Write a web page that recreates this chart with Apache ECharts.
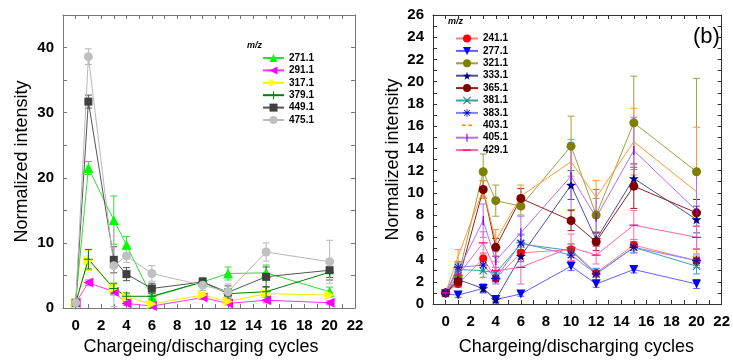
<!DOCTYPE html>
<html><head><meta charset="utf-8">
<script src="https://cdn.jsdelivr.net/npm/echarts@6/dist/echarts.min.js"></script>
<style>html,body{margin:0;padding:0;background:#fff}#c{width:733px;height:361px}</style>
</head><body><div id="c"></div>
<script>
// ---------- data ----------
const cycles = [0, 1, 3, 4, 6, 10, 12, 15, 20];
const xTickLabels = [0, 2, 4, 6, 8, 10, 12, 14, 16, 18, 20, 22];
const leftYTickLabels = [0, 10, 20, 30, 40];
const rightYTickLabels = [0, 2, 4, 6, 8, 10, 12, 14, 16, 18, 20, 22, 24, 26];

// left panel (a)
const mz271 = [0.9, 21.5, 13.5, 9.7, 1.7, 4.0, 5.3, 5.4, 2.5];
const err271 = [0.3, 1.0, 3.7, 1.3, 0.5, 0.6, 1.0, 1.2, 0.7];
const mz291 = [0.8, 3.9, 2.5, 0.7, 0.3, 1.6, 0.7, 1.2, 0.8];
const err291 = [0.2, 0.4, 0.5, 0.3, 0.2, 0.3, 0.2, 0.4, 0.3];
const mz317 = [0.8, 7.3, 3.0, 1.7, 0.6, 2.0, 1.0, 2.2, 2.0];
const err317 = [0.2, 1.5, 0.6, 0.4, 0.3, 0.4, 0.3, 0.5, 0.4];
const mz379 = [0.8, 7.5, 3.0, 1.8, 1.8, 4.0, 2.2, 2.5, 5.5];
const err379 = [0.2, 1.5, 0.8, 0.5, 0.5, 0.6, 0.5, 0.7, 0.8];
const mz449 = [0.8, 31.7, 7.4, 5.2, 3.0, 4.0, 2.4, 4.8, 5.8];
const err449 = [0.2, 1.0, 2.0, 1.0, 0.8, 0.6, 1.0, 1.5, 1.5];
const mz475 = [0.8, 38.6, 6.5, 8.0, 5.3, 3.5, 2.5, 8.6, 7.1];
const err475 = [0.2, 1.2, 6.3, 1.0, 1.2, 0.8, 1.2, 1.4, 3.3];

// right panel (b)
const mz241 = [1.0, 1.8, 4.1, 2.3, 4.6, 4.9, 2.8, 5.3, 3.9];
const err241 = [0.2, 0.3, 0.5, 0.4, 0.5, 0.5, 0.4, 0.5, 0.4];
const mz277 = [0.9, 0.8, 1.4, 0.4, 0.9, 3.4, 1.8, 3.1, 1.8];
const err277 = [0.2, 0.2, 0.3, 0.2, 0.2, 0.4, 0.3, 0.3, 0.4];
const mz321 = [1.0, 2.4, 11.9, 9.3, 8.8, 14.2, 8.0, 16.3, 11.9];
const err321 = [0.2, 0.5, 1.6, 1.4, 0.8, 2.7, 1.5, 4.2, 8.4];
const mz333 = [1.0, 2.2, 1.4, 0.4, 4.3, 10.7, 5.8, 11.3, 7.6];
const err333 = [0.2, 0.5, 0.4, 0.3, 0.5, 1.3, 0.6, 1.0, 1.2];
const mz365 = [1.0, 2.0, 10.3, 5.1, 9.5, 7.5, 5.6, 10.6, 8.2];
const err365 = [0.2, 0.4, 0.8, 0.8, 0.9, 0.9, 0.8, 2.0, 1.2];
const mz381 = [1.0, 3.1, 3.0, 2.8, 5.4, 4.8, 2.7, 5.1, 3.4];
const err381 = [0.2, 0.5, 0.6, 0.5, 0.8, 0.6, 0.5, 0.5, 0.7];
const mz383 = [1.0, 3.3, 3.5, 2.3, 5.5, 4.4, 2.7, 5.1, 3.9];
const err383 = [0.2, 0.5, 0.6, 0.5, 0.8, 0.6, 0.5, 0.5, 0.6];
const mz403 = [1.0, 4.3, 10.3, 5.7, 9.7, 12.8, 9.6, 14.6, 10.1];
const err403 = [0.2, 0.6, 0.8, 1.0, 1.0, 2.0, 1.5, 3.0, 5.8];
const mz405 = [1.0, 3.0, 7.5, 3.9, 6.4, 11.5, 7.8, 13.8, 8.4];
const err405 = [0.2, 0.8, 1.5, 1.0, 1.5, 3.0, 2.5, 3.0, 3.5];
const mz429 = [1.0, 2.6, 5.5, 3.0, 3.3, 5.1, 4.4, 7.1, 6.0];
const err429 = [0.2, 0.6, 1.0, 0.8, 1.5, 1.2, 0.8, 1.3, 1.0];

// ---------- styling ----------
const FONT = 'Liberation Sans, Arial, sans-serif';
const SYM = {
  plus: 'path://M4.4,0H5.6V4.4H10V5.6H5.6V10H4.4V5.6H0V4.4H4.4Z',
  star: 'path://M5,0L6.2,3.5L10,3.6L7,5.9L8.1,9.5L5,7.4L1.9,9.5L3,5.9L0,3.6L3.8,3.5Z',
  cross: 'path://M0,0.8L0.8,0L5,4.2L9.2,0L10,0.8L5.8,5L10,9.2L9.2,10L5,5.8L0.8,10L0,9.2L4.2,5Z',
  aster: 'path://M4.5,0H5.5V10H4.5Z M0,4.5H10V5.5H0Z M1,1.7L1.7,1L9,8.3L8.3,9Z M8.3,1L9,1.7L1.7,9L1,8.3Z',
  vbar: 'path://M0,0H10V0.01H0Z M4.3,0H5.7V10H4.3Z',
  hbar: 'path://M0,0H0.01V10H0Z M0,4.3H10V5.7H0Z',
  dashes: 'path://M0,0H0.01V10H0Z M0,4.2H3.5V5.8H0Z M6.5,4.2H10V5.8H6.5Z'
};

function errRender(params, api) {
  const x = api.value(0), lo = api.value(1), hi = api.value(2);
  const p1 = api.coord([x, hi]), p2 = api.coord([x, lo]);
  const w = 3.5;
  const style = { stroke: api.visual('color'), lineWidth: 1, fill: null };
  return { type: 'group', children: [
    { type: 'line', shape: { x1: p1[0], y1: p1[1], x2: p2[0], y2: p2[1] }, style },
    { type: 'line', shape: { x1: p1[0] - w, y1: p1[1], x2: p1[0] + w, y2: p1[1] }, style },
    { type: 'line', shape: { x1: p2[0] - w, y1: p2[1], x2: p2[0] + w, y2: p2[1] }, style }
  ]};
}

const series = [];
function add(name, ys, es, gi, color, lineColor, symbol, size, rotate) {
  const noSym = symbol === 'none';
  series.push({
    name, type: 'line', xAxisIndex: gi * 2, yAxisIndex: gi * 2,
    data: cycles.map((x, i) => [x, ys[i]]),
    symbol: noSym ? 'none' : symbol, symbolSize: size, symbolRotate: rotate || 0,
    symbolKeepAspect: true,
    showSymbol: !noSym,
    itemStyle: { color: color },
    lineStyle: { color: lineColor, width: 1 },
    emphasis: { disabled: true },
    z: 3, animation: false
  });
  series.push({
    name: name + ' err', type: 'custom', xAxisIndex: gi * 2, yAxisIndex: gi * 2,
    renderItem: errRender,
    data: cycles.map((x, i) => [x, ys[i] - es[i], ys[i] + es[i]]),
    itemStyle: { color: lineColor }, z: 2, animation: false, silent: true
  });
}
// left
add('271.1', mz271, err271, 0, '#00ff00', '#33dd33', 'triangle', 10);
add('291.1', mz291, err291, 0, '#ff00ff', '#ff33ff', 'triangle', 10, 90);
add('317.1', mz317, err317, 0, '#ffff00', '#eeee00', 'triangle', 10, -90);
add('379.1', mz379, err379, 0, '#008000', '#008000', SYM.plus, 9);
add('449.1', mz449, err449, 0, '#404040', '#555555', 'rect', 8);
add('475.1', mz475, err475, 0, '#c0c0c0', '#b8b8b8', 'circle', 9);
// right
add('241.1', mz241, err241, 1, '#ff0000', '#ff8080', 'circle', 8);
add('277.1', mz277, err277, 1, '#0000ff', '#6060ff', 'triangle', 9, 180);
add('321.1', mz321, err321, 1, '#808000', '#a0a040', 'circle', 9);
add('333.1', mz333, err333, 1, '#000080', '#5050a0', SYM.star, 10);
add('365.1', mz365, err365, 1, '#800000', '#902020', 'circle', 9);
add('381.1', mz381, err381, 1, '#008080', '#40a0a0', SYM.cross, 8);
add('383.1', mz383, err383, 1, '#0000c0', '#8080ff', SYM.aster, 9);
add('403.1', mz403, err403, 1, '#ff8000', '#ff9933', 'none', 0);
add('405.1', mz405, err405, 1, '#8000ff', '#b070ff', SYM.vbar, 9);
add('429.1', mz429, err429, 1, '#ff0080', '#ff66aa', SYM.hbar, 9);

const leftNames = ['271.1', '291.1', '317.1', '379.1', '449.1', '475.1'];
const rightNames = ['241.1', '277.1', '321.1', '333.1', '365.1', '381.1', '383.1', '403.1', '405.1', '429.1'];

function axes(gi, axisColor, yMax, yInterval, yLabels) {
  const lineS = { lineStyle: { color: axisColor, width: 1 } };
  const tick = { show: true, inside: true, length: 4, lineStyle: { color: axisColor } };
  const xb = {
    type: 'value', gridIndex: gi, min: -1, max: 22, interval: 1, position: 'bottom',
    axisLine: { show: true, onZero: false, ...lineS }, axisTick: tick,
    axisLabel: { formatter: v => xTickLabels.includes(v) ? String(v) : '', color: '#000',
      fontWeight: 'bold', fontSize: 15, fontFamily: FONT, margin: 10 },
    splitLine: { show: false },
    name: 'Chargeing/discharging cycles', nameLocation: 'middle',
    nameGap: gi === 0 ? 30 : 34,
    nameTextStyle: { fontSize: 18, fontFamily: FONT, color: '#000',
      padding: gi === 0 ? [0, 16, 0, 0] : [0, 2, 0, 0] }
  };
  const xt = {
    type: 'value', gridIndex: gi, min: -1, max: 22, interval: 1, position: 'top',
    axisLine: { show: true, onZero: false, ...lineS }, axisTick: tick,
    axisLabel: { show: false }, splitLine: { show: false }
  };
  const yl = {
    type: 'value', gridIndex: gi, min: 0, max: yMax, interval: yInterval, position: 'left',
    axisLine: { show: true, onZero: false, ...lineS }, axisTick: tick,
    axisLabel: { formatter: v => yLabels.includes(v) ? String(v) : '', color: '#000',
      fontWeight: 'bold', fontSize: 15, fontFamily: FONT, margin: 9 },
    splitLine: { show: false },
    name: 'Normalized intensity', nameLocation: 'middle', nameGap: gi === 0 ? 32 : 31,
    nameTextStyle: { fontSize: 18, fontFamily: FONT, color: '#000' }
  };
  const yr = {
    type: 'value', gridIndex: gi, min: 0, max: yMax, interval: yInterval, position: 'right',
    axisLine: { show: true, onZero: false, ...lineS }, axisTick: tick,
    axisLabel: { show: false }, splitLine: { show: false }
  };
  return { x: [xb, xt], y: [yl, yr] };
}
const a0 = axes(0, '#777777', 45, 5, leftYTickLabels);
const a1 = axes(1, '#333333', 26, 1, rightYTickLabels);

const legendText = { fontSize: 10, fontWeight: 'bold', fontFamily: FONT, color: '#000', lineHeight: 10 };
const rightLegendData = rightNames.map(n => n === '403.1'
  ? { name: n, icon: SYM.dashes, itemStyle: { color: '#ff8000' } } : n);

const option = {
  backgroundColor: '#ffffff',
  animation: false,
  grid: [
    { left: 63, top: 15, width: 292, height: 293, containLabel: false },
    { left: 433, top: 15, width: 292, height: 292, containLabel: false }
  ],
  xAxis: [a0.x[0], a0.x[1], a1.x[0], a1.x[1]],
  yAxis: [a0.y[0], a0.y[1], a1.y[0], a1.y[1]],
  legend: [
    { data: leftNames, orient: 'vertical', left: 257, top: 48, itemWidth: 21, itemHeight: 10,
      itemGap: 2.4, textStyle: legendText, selectedMode: false },
    { data: rightLegendData, orient: 'vertical', left: 450, top: 28.5, itemWidth: 22, itemHeight: 10,
      itemGap: 2.4, textStyle: legendText, selectedMode: false }
  ],
  graphic: [
    { type: 'text', left: 247, top: 41, style: { text: 'm/z', font: 'italic bold 9px ' + FONT, fill: '#000' } },
    { type: 'text', left: 448, top: 17, style: { text: 'm/z', font: 'italic bold 9px ' + FONT, fill: '#000' } },
    { type: 'text', left: 693, top: 26, style: { text: '(b)', font: '22px ' + FONT, fill: '#000' } }
  ],
  series: series
};
const chart = echarts.init(document.getElementById('c'), null, { renderer: 'canvas' });
chart.setOption(option);
</script>
</body></html>
